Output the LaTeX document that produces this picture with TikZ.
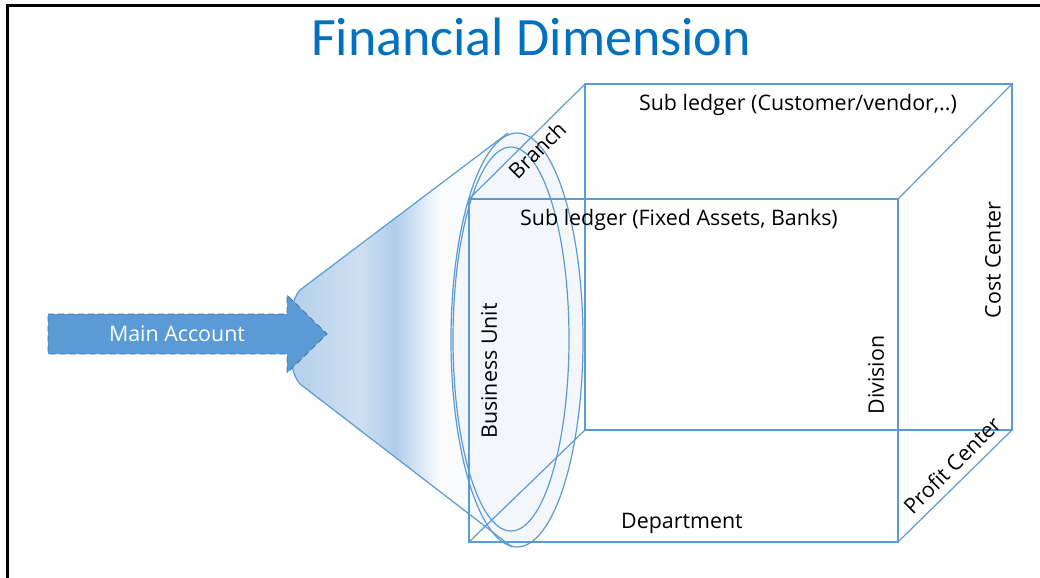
\documentclass[tikz,border=0pt]{standalone}
\usepackage{fontspec}
\setmainfont{Open Sans}
\newfontfamily\titlefont{Carlito}

\definecolor{dimline}{HTML}{5B9BD5}
\definecolor{dimtitle}{HTML}{0070C0}
\definecolor{dimfill}{HTML}{F3F7FC}
\definecolor{arrowfill}{HTML}{5B9BD5}
\definecolor{arrowline}{HTML}{41719C}
\definecolor{conea}{HTML}{AFCDEA}
\definecolor{coneb}{HTML}{CFE0F2}
\definecolor{coned}{HTML}{B0CDEA}

\begin{document}
\begin{tikzpicture}[x=0.5pt,y=-0.5pt,
  edge/.style={draw=dimline,line width=0.6pt},
  lbl/.style={font=\fontsize{10.7}{12}\selectfont,inner sep=0pt}]

\useasboundingbox (0,0) rectangle (1040,578);

% Frame
\draw[line width=1.5pt] (7.5,578) -- (7.5,5.5) -- (1040,5.5);

% Cube corners
\coordinate (fa) at (469,199);
\coordinate (fb) at (898,199);
\coordinate (fc) at (898,542);
\coordinate (fd) at (469,542);
\coordinate (ba) at (585,84);
\coordinate (bb) at (1012,84);
\coordinate (bc) at (1012,430);
\coordinate (bd) at (585,430);

% Cone
\coordinate (ct) at (300,290);
\coordinate (cb) at (300,384);
\coordinate (et) at (508,133);
\coordinate (eb) at (512,547);
\begin{scope}
  \clip (ct) -- (et) -- (eb) -- (cb) .. controls (285,368) and (285,306) .. (ct);
  \shade[left color=conea,right color=coneb] (280,0) rectangle (361,578);
  \shade[left color=coneb,right color=coned] (360,0) rectangle (396,578);
  \shade[left color=coned,right color=white] (395,0) rectangle (443,578);
  \fill[dimfill!50] (442,0) rectangle (600,578);
\end{scope}
\fill[dimfill] (517,340) ellipse [x radius=66,y radius=207];
\draw[edge] (et) -- (ct) .. controls (285,306) and (285,368) .. (cb) -- (eb);

% Cube
\draw[edge] (ba) rectangle (bc);
\draw[edge] (fa) rectangle (fc);
\draw[edge] (fa) -- (ba) (fb) -- (bb) (fc) -- (bc) (fd) -- (bd);

% Ellipses
\draw[edge] (517,340) ellipse [x radius=66,y radius=207];
\draw[edge] (511,339) ellipse [x radius=58,y radius=192];

% Main account arrow
\draw[fill=arrowfill,draw=arrowline,densely dashed,line width=0.4pt]
  (48,314) -- (287,314) -- (287,295) -- (327,334) -- (287,373) -- (287,354) -- (48,354) -- cycle;
\node[lbl,text=white] (main) at (177,334) {Main Account};

% Labels
\node[font=\titlefont\fontsize{27}{30}\selectfont,text=dimtitle] (title) at (531,37) {Financial Dimension};
\node[lbl] (cust) at (798,105) {Sub ledger (Customer/vendor,..)};
\node[lbl] (fixed) at (679,220) {Sub ledger (Fixed Assets, Banks)};
\node[lbl,rotate=45] (branch) at (537,150) {Branch};
\node[lbl,rotate=90] (bunit) at (489,371) {Business Unit};
\node[lbl,rotate=90] (division) at (876,375) {Division};
\node[lbl,rotate=90] (cost) at (993,260) {Cost Center};
\node[lbl,rotate=45] (profit) at (952,465) {Profit Center};
\node[lbl] (dept) at (682,523) {Department};
\end{tikzpicture}
\end{document}
